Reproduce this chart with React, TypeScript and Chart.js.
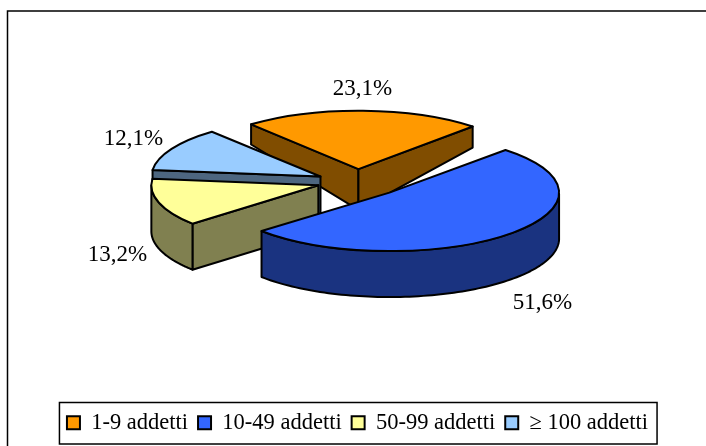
import React, { useEffect, useRef } from "react";
import { Chart, registerables } from "chart.js";

Chart.register(...registerables);

const categories = ["1-9 addetti", "10-49 addetti", "50-99 addetti", "≥ 100 addetti"];
const shares = [23.1, 51.6, 13.2, 12.1];
const fills = ["#FF9900", "#3366FF", "#FFFF99", "#99CCFF"];
const sides = ["#804D00", "#1A3380", "#808050", "#4D6680"];
const explode = [34, 46, 41, 42];

const SQUASH = 0.35;
const PIE_CENTER_Y = 181;
const FONT = "'Liberation Serif', serif";
const paintOrder = [0, 3, 2, 1];
const radiusScale = [1, 1.016, 1, 1.012];
const drop = [0, 0, 0, 2.5];
const labelNudge: [number, number][] = [[4, -80], [153, 110], [-201, 70], [-187, -38]];

const depthAt = (y: number) => Math.min(46, Math.max(20, 20 + (y - 124) * 0.46));

const pie3d = {
  id: "pie3d",
  beforeDraw(chart: any) {
    const ctx = chart.ctx;
    ctx.save();
    ctx.strokeStyle = "#000";
    ctx.lineWidth = 1.5;
    ctx.strokeRect(7.5, 11, 720, 460);
    const boxes = chart.legend.legendHitBoxes;
    const l = boxes[0].left - 7.5;
    const r = boxes[boxes.length - 1].left + boxes[boxes.length - 1].width + 9;
    ctx.strokeRect(l, 402.5, r - l, 41.5);
    ctx.restore();
  },
  beforeDatasetsDraw(chart: any) {
    const ctx = chart.ctx;
    const arcs = chart.getDatasetMeta(0).data;
    ctx.save();
    ctx.lineJoin = "round";
    ctx.lineWidth = 2;
    ctx.strokeStyle = "#000";
    const apexes: [number, number][] = [];
    arcs.forEach((arc: any, i: number) => {
      const mid = (arc.startAngle + arc.endAngle) / 2;
      apexes[i] = [
        arc.x + explode[i] * Math.cos(mid),
        PIE_CENTER_Y + SQUASH * explode[i] * Math.sin(mid) + drop[i],
      ];
    });
    for (const i of paintOrder) {
      const arc = arcs[i];
      const [ax, ay] = apexes[i];
      const r = arc.outerRadius * radiusScale[i];
      const ry = arc.outerRadius * SQUASH;
      const s = arc.startAngle;
      const e = arc.endAngle;
      const pt = (a: number): [number, number] => [ax + r * Math.cos(a), ay + ry * Math.sin(a)];
      ctx.fillStyle = sides[i];
      // cut faces: only the ones turned towards the viewer
      const cuts: number[] = [];
      if (Math.sin(s - Math.PI / 2) > 0) cuts.push(s);
      if (Math.sin(e + Math.PI / 2) > 0) cuts.push(e);
      for (const a of cuts) {
        const [px, py] = pt(a);
        ctx.beginPath();
        ctx.moveTo(ax, ay);
        ctx.lineTo(px, py);
        ctx.lineTo(px, py + depthAt(py));
        ctx.lineTo(ax, ay + depthAt(ay));
        ctx.closePath();
        ctx.fill();
        ctx.stroke();
      }
      // outer wall: only the part of the rim that faces the viewer
      const norm = (a: number) => {
        let v = a;
        while (v < 0) v += Math.PI * 2;
        while (v >= Math.PI * 2) v -= Math.PI * 2;
        return v;
      };
      const from = norm(s);
      const span = e - s;
      const vis: number[] = [];
      const steps = 120;
      for (let k = 0; k <= steps; k++) {
        const a = from + (span * k) / steps;
        if (norm(a) <= Math.PI) vis.push(a);
      }
      if (vis.length > 1) {
        ctx.beginPath();
        vis.forEach((a, k) => {
          const [px, py] = pt(a);
          if (k === 0) ctx.moveTo(px, py);
          else ctx.lineTo(px, py);
        });
        [...vis].reverse().forEach((a) => {
          const [px, py] = pt(a);
          ctx.lineTo(px, py + depthAt(py));
        });
        ctx.closePath();
        ctx.fill();
        ctx.stroke();
      }
      // top face
      ctx.fillStyle = fills[i];
      ctx.beginPath();
      ctx.moveTo(ax, ay);
      ctx.ellipse(ax, ay, r, ry, 0, s, e);
      ctx.closePath();
      ctx.fill();
      ctx.stroke();
    }
    ctx.fillStyle = "#000";
    ctx.font = `23px ${FONT}`;
    ctx.textAlign = "center";
    ctx.textBaseline = "middle";
    arcs.forEach((_: any, i: number) => {
      const [ax, ay] = apexes[i];
      const text = shares[i].toFixed(1).replace(".", ",") + "%";
      ctx.fillText(text, ax + labelNudge[i][0], ay + labelNudge[i][1]);
    });
    ctx.restore();
    return false;
  },
};

export default function App() {
  const ref = useRef<HTMLCanvasElement | null>(null);
  useEffect(() => {
    document.body.style.margin = "0";
    const chart = new Chart(ref.current as HTMLCanvasElement, {
      type: "pie",
      data: {
        labels: categories,
        datasets: [
          {
            data: shares,
            backgroundColor: fills,
            borderColor: "#000",
            borderWidth: 2,
            offset: explode,
          },
        ],
      },
      options: {
        responsive: false,
        animation: false,
        rotation: -40,
        radius: 167,
        layout: { padding: { left: 9, right: 0, top: 0, bottom: 2 } },
        plugins: {
          tooltip: { enabled: false },
          title: { display: false },
          legend: {
            position: "bottom",
            labels: {
              boxWidth: 13,
              boxHeight: 13,
              padding: 10,
              color: "#000",
              font: { family: FONT, size: 22.5 },
            },
          },
        },
      },
      plugins: [pie3d],
    } as any);
    return () => chart.destroy();
  }, []);
  return (
    <div style={{ position: "absolute", left: 0, top: 0, width: 706, height: 446, background: "#fff" }}>
      <canvas ref={ref} width={706} height={446} style={{ display: "block" }} />
    </div>
  );
}
